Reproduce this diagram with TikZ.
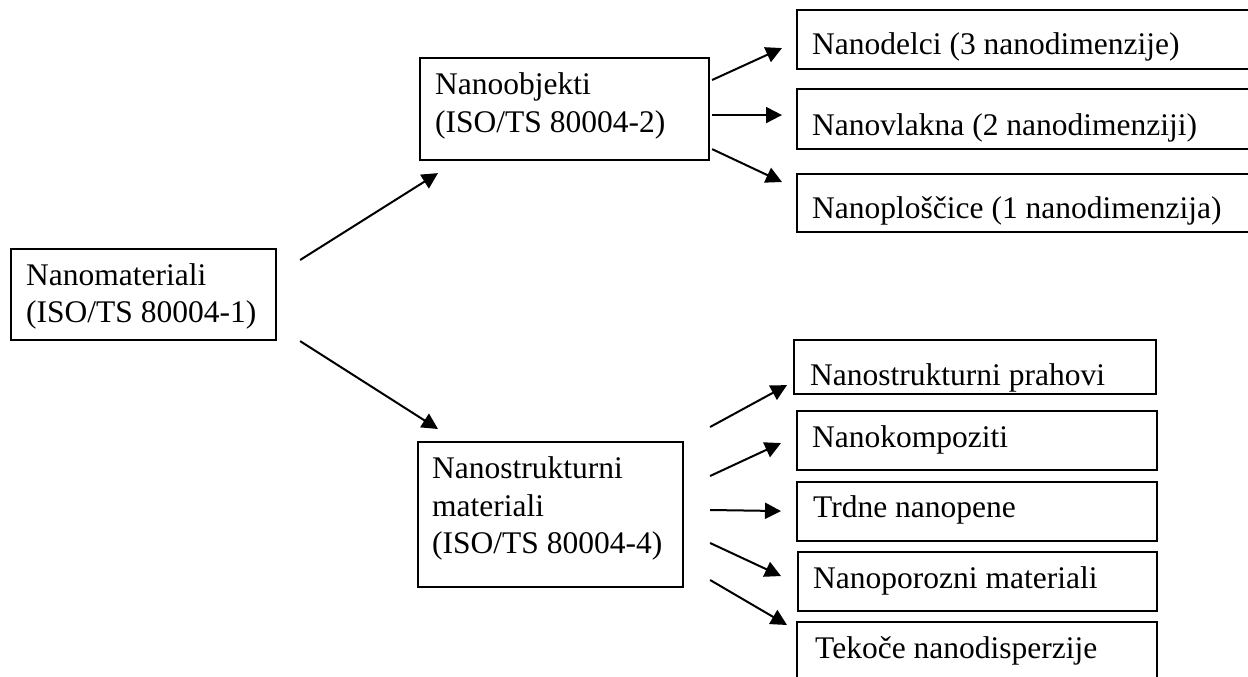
\documentclass[tikz,border=0pt]{standalone}
\usepackage{fontspec}
\setmainfont{Liberation Serif}
\usetikzlibrary{arrows.meta,calc}
\begin{document}
\begin{tikzpicture}[x=1pt,y=-1pt,
  box/.style={draw=black,line width=2.1pt,rectangle,inner sep=0pt,anchor=north west},
  lbl/.style={inner sep=0pt,anchor=base west,font=\fontsize{31.5}{36}\selectfont},
  arr/.style={line width=2pt,-{Triangle[length=16pt,width=16pt]}}]
\clip (0,0) rectangle (1248,677);
\fill[white] (0,0) rectangle (1248,677);
% main boxes
\node[box,minimum width=265pt,minimum height=91pt] (A) at (10,248) {};
\node[box,minimum width=289pt,minimum height=102pt] (B) at (419,57) {};
\node[box,minimum width=265pt,minimum height=145pt] (C) at (417,441) {};
% right boxes (top)
\node[box,minimum width=470pt,minimum height=59pt] (D1) at (796,9) {};
\node[box,minimum width=470pt,minimum height=60pt] (D2) at (796,88) {};
\node[box,minimum width=470pt,minimum height=58pt] (D3) at (796,173) {};
% right boxes (bottom)
\node[box,minimum width=362pt,minimum height=54pt] (E1) at (793,339) {};
\node[box,minimum width=360pt,minimum height=59pt] (E2) at (796,410) {};
\node[box,minimum width=360pt,minimum height=59pt] (E3) at (796,481) {};
\node[box,minimum width=359pt,minimum height=59pt] (E4) at (797,551) {};
\node[box,minimum width=360pt,minimum height=80pt] (E5) at (796,621) {};
% texts
\node[lbl] (A1) at (26,285) {Nanomateriali};
\node[lbl] (A2) at (26,322) {(ISO/TS 80004-1)};
\node[lbl] (B1) at (435,95) {Nanoobjekti};
\node[lbl] (B2) at (435,132) {(ISO/TS 80004-2)};
\node[lbl] (C1) at (432,478) {Nanostrukturni};
\node[lbl] (C2) at (432,516) {materiali};
\node[lbl] (C3) at (432,553) {(ISO/TS 80004-4)};
\node[lbl] (D1t) at (812,55) {Nanodelci (3 nanodimenzije)};
\node[lbl] (D2t) at (812,135) {Nanovlakna (2 nanodimenziji)};
\node[lbl] (D3t) at (812,218) {Nanoploščice (1 nanodimenzija)};
\node[lbl] (E1t) at (810,385) {Nanostrukturni prahovi};
\node[lbl] (E2t) at (812,447) {Nanokompoziti};
\node[lbl] (E3t) at (813,517) {Trdne nanopene};
\node[lbl] (E4t) at (813,588) {Nanoporozni materiali};
\node[lbl] (E5t) at (815,658) {Tekoče nanodisperzije};
% arrows
\draw[arr] ($(A.north east)+(23,12)$) -- ($(B.south west)+(19,12)$);
\draw[arr] ($(A.south east)+(23,0)$) -- ($(C.north west)+(21,-12)$);
\draw[arr] ($(B.north east)+(2,23)$) -- ($(D1.west)+(-14,8.5)$);
\draw[arr] ($(B.east)+(2,6)$) -- ($(D2.west)+(-14,-4)$);
\draw[arr] ($(B.south east)+(2,-12)$) -- ($(D3.north west)+(-14,9)$);
\draw[arr] ($(C.north east)+(26,-14)$) -- ($(E1.south west)+(-6,-10)$);
\draw[arr] ($(C.north east)+(26,35)$) -- ($(E2.west)+(-15,2.5)$);
\draw[arr] ($(C.north east)+(26,69)$) -- ($(E3.west)+(-15,-0.5)$);
\draw[arr] ($(C.north east)+(26,102)$) -- ($(E4.west)+(-16,-5.5)$);
\draw[arr] ($(C.north east)+(26,139)$) -- ($(E5.north west)+(-9,4)$);
\end{tikzpicture}
\end{document}
